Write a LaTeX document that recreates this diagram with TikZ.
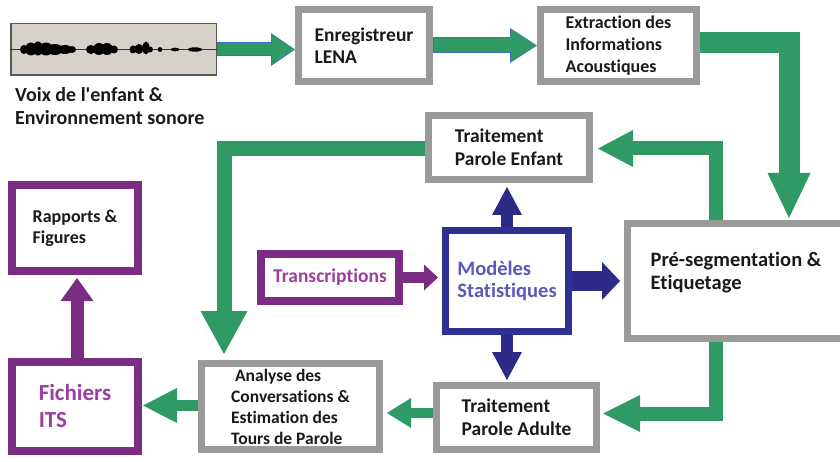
\documentclass[tikz,border=0pt]{standalone}
\usepackage{fontspec}
\setmainfont{Carlito}[Ligatures={TeXOff,NoCommon}]
\usetikzlibrary{arrows.meta,calc}
\definecolor{grn}{HTML}{2F9A63}
\definecolor{boxgrey}{HTML}{9A9A9A}
\definecolor{purp}{HTML}{7B2C83}
\definecolor{purptxt}{HTML}{9B3FA0}
\definecolor{navy}{HTML}{2E3192}
\definecolor{navyarr}{HTML}{2B2A86}
\definecolor{bluetxt}{HTML}{5A5AB8}
\definecolor{txt}{HTML}{1A1A1A}
\definecolor{wavebg}{HTML}{D5D1C9}
\definecolor{arrblue}{HTML}{3A6FC4}
\tikzset{
  basebox/.style={fill=white, align=left, inner sep=0pt, text=txt},
  greybox/.style={basebox, draw=boxgrey, line width=7pt, font=\bfseries\fontsize{19.5}{23}\selectfont},
  purpbox/.style={basebox, draw=purp, line width=8pt, font=\bfseries\fontsize{18}{21}\selectfont},
  navybox/.style={basebox, draw=navy, line width=7pt, font=\bfseries\fontsize{20.5}{22}\selectfont, text=bluetxt},
  fat/.style={line join=miter, line cap=butt},
  tipg/.style 2 args={-{Triangle[width=#1pt,length=#2pt,line width=0pt]}},
}
\begin{document}
\begin{tikzpicture}[x=1pt,y=-1pt]
\useasboundingbox (0,0) rectangle (840,462);

% waveform
\node[draw=black!65, line width=1.5pt, fill=wavebg, minimum width=205.5pt, minimum height=51.5pt, inner sep=0pt] (wave) at (113.5,49.5) {};
\draw[black!80, line width=1.2pt] (wave.west) -- (wave.east);
\begin{scope}[fill=black]
\fill (24,49.5) ellipse [x radius=4, y radius=4.5];
\fill (31,49) ellipse [x radius=6, y radius=6.5];
\fill (38,48.5) ellipse [x radius=5, y radius=7];
\fill (46,49) ellipse [x radius=7, y radius=6.5];
\fill (55,49.5) ellipse [x radius=8, y radius=5.5];
\fill (65,49.5) ellipse [x radius=7, y radius=4.5];
\fill (72,49.5) ellipse [x radius=4, y radius=3.5];
\fill (91,49.5) ellipse [x radius=5, y radius=4.5];
\fill (99,49) ellipse [x radius=6, y radius=6];
\fill (107,49) ellipse [x radius=6, y radius=6];
\fill (114,49.5) ellipse [x radius=4, y radius=4];
\fill (133,49.5) ellipse [x radius=3.5, y radius=4];
\fill (139,49) ellipse [x radius=4.5, y radius=5];
\fill (146,48) ellipse [x radius=3.5, y radius=6.5];
\fill (150,49.5) ellipse [x radius=3, y radius=3];
\fill (160,49.5) ellipse [x radius=2.4, y radius=2.4];
\fill (175,49.5) ellipse [x radius=4.5, y radius=1.8];
\fill (195,49.5) ellipse [x radius=7, y radius=2.2];
\end{scope}
\node[anchor=base west, align=left, inner sep=0pt, text=txt, font=\bfseries\fontsize{20}{23}\selectfont] (voix) at (15,125) {Voix de l'enfant \&\\Environnement sonore};

% boxes
\node[greybox, minimum width=131pt, minimum height=72pt, font=\bfseries\fontsize{19.5}{22}\selectfont] (lena) at (364,45.5) {Enregistreur\\LENA};
\node[greybox, minimum width=156pt, minimum height=72pt, font=\bfseries\fontsize{18}{22}\selectfont] (extr) at (618.5,45.5) {Extraction des\\Informations\\Acoustiques};
\node[greybox, minimum width=161pt, minimum height=64pt] (tpe) at (509,147.5) {Traitement\\Parole Enfant};
\node[greybox, minimum width=217pt, minimum height=115pt] (preseg) at (736,281) {};
\node[basebox, fill=none, font=\bfseries\fontsize{20.5}{23}\selectfont] (presegtext) at (736,273) {Pré-segmentation \&\\Etiquetage};
\node[greybox, minimum width=160pt, minimum height=64pt] (tpa) at (516.5,417.5) {Traitement\\Parole Adulte};
\node[greybox, minimum width=178pt, minimum height=86pt, font=\bfseries\fontsize{17.5}{21}\selectfont] (analyse) at (290.5,406.5) {\ Analyse des\\Conversations \&\\Estimation des\\Tours de Parole};
\node[navybox, minimum width=123pt, minimum height=101pt] (model) at (507,281) {Modèles\\Statistiques};
\node[purpbox, minimum width=126pt, minimum height=89pt, text=purptxt, font=\bfseries\fontsize{23}{27}\selectfont] (its) at (75,406.5) {Fichiers\\ITS};
\node[purpbox, minimum width=126pt, minimum height=86pt] (rapports) at (75,228) {Rapports \&\\Figures};
\node[purpbox, minimum width=138pt, minimum height=47pt, text=purptxt, font=\bfseries\fontsize{19.5}{22}\selectfont] (trans) at (330,277.5) {Transcriptions};

% coordinates for elbows
\coordinate (c1) at (789,42.5);
\coordinate (c2) at (715.5,148.5);
\coordinate (c3) at (224,148.5);
\coordinate (c4) at (715.5,413.5);
\coordinate (c5) at (410,413);
\coordinate (c6) at (160,405.5);

% top arrows (green with blue outline)
\draw[fat, draw=arrblue, line width=14pt, tipg={33}{24}] (wave.east) -- (wave.east -| lena.west);
\draw[fat, draw=grn, line width=12pt, tipg={30}{22}, shorten >=1pt, shorten <=1pt] (wave.east) -- (wave.east -| lena.west);
\draw[fat, draw=arrblue, line width=16pt, tipg={35}{27}] (lena.east) -- (extr.west);
\draw[fat, draw=grn, line width=14pt, tipg={32}{25}, shorten >=1pt, shorten <=1pt] (lena.east) -- (extr.west);

% green elbows
\draw[fat, draw=grn, line width=21pt, tipg={43}{45}, shorten >=2pt] (extr.east |- c1) -- (c1) -- (c1 |- preseg.north);
\draw[fat, draw=grn, line width=14pt, tipg={37}{35}, shorten >=5pt] (c2 |- preseg.north) -- (c2) -- (c2 -| tpe.east);
\draw[fat, draw=grn, line width=15pt, tipg={47}{43}, shorten >=6pt] (tpe.west |- c3) -- (c3) -- (c3 |- analyse.north);
\draw[fat, draw=grn, line width=14pt, tipg={37}{37}, shorten >=3pt] (c4 |- preseg.south) -- (c4) -- (c4 -| tpa.east);
\draw[fat, draw=grn, line width=10pt, tipg={30}{24}, shorten >=4pt] (tpa.west |- c5) -- (analyse.east |- c5);
\draw[fat, draw=grn, line width=11pt, tipg={35}{34}, shorten >=1pt] (analyse.west |- c6) -- (its.east |- c6);

% blue arrows
\draw[fat, draw=navyarr, line width=12pt, tipg={30}{28}, shorten >=4pt] (model.north) -- (model.north |- tpe.south);
\draw[fat, draw=navyarr, line width=12pt, tipg={30}{28}, shorten >=2pt] (model.south) -- (model.south |- tpa.north);
\draw[fat, draw=navyarr, line width=20pt, tipg={38}{18}, shorten >=4pt] (model.east) -- (model.east -| preseg.west);

% purple arrows
\draw[fat, draw=purp, line width=11pt, tipg={26}{14}, shorten >=4pt] (trans.east) -- (trans.east -| model.west);
\draw[fat, draw=purp, line width=13pt, tipg={33}{23}, shorten >=3pt] ([xshift=2pt]its.north) -- ([xshift=2pt]rapports.south);
\end{tikzpicture}
\end{document}
